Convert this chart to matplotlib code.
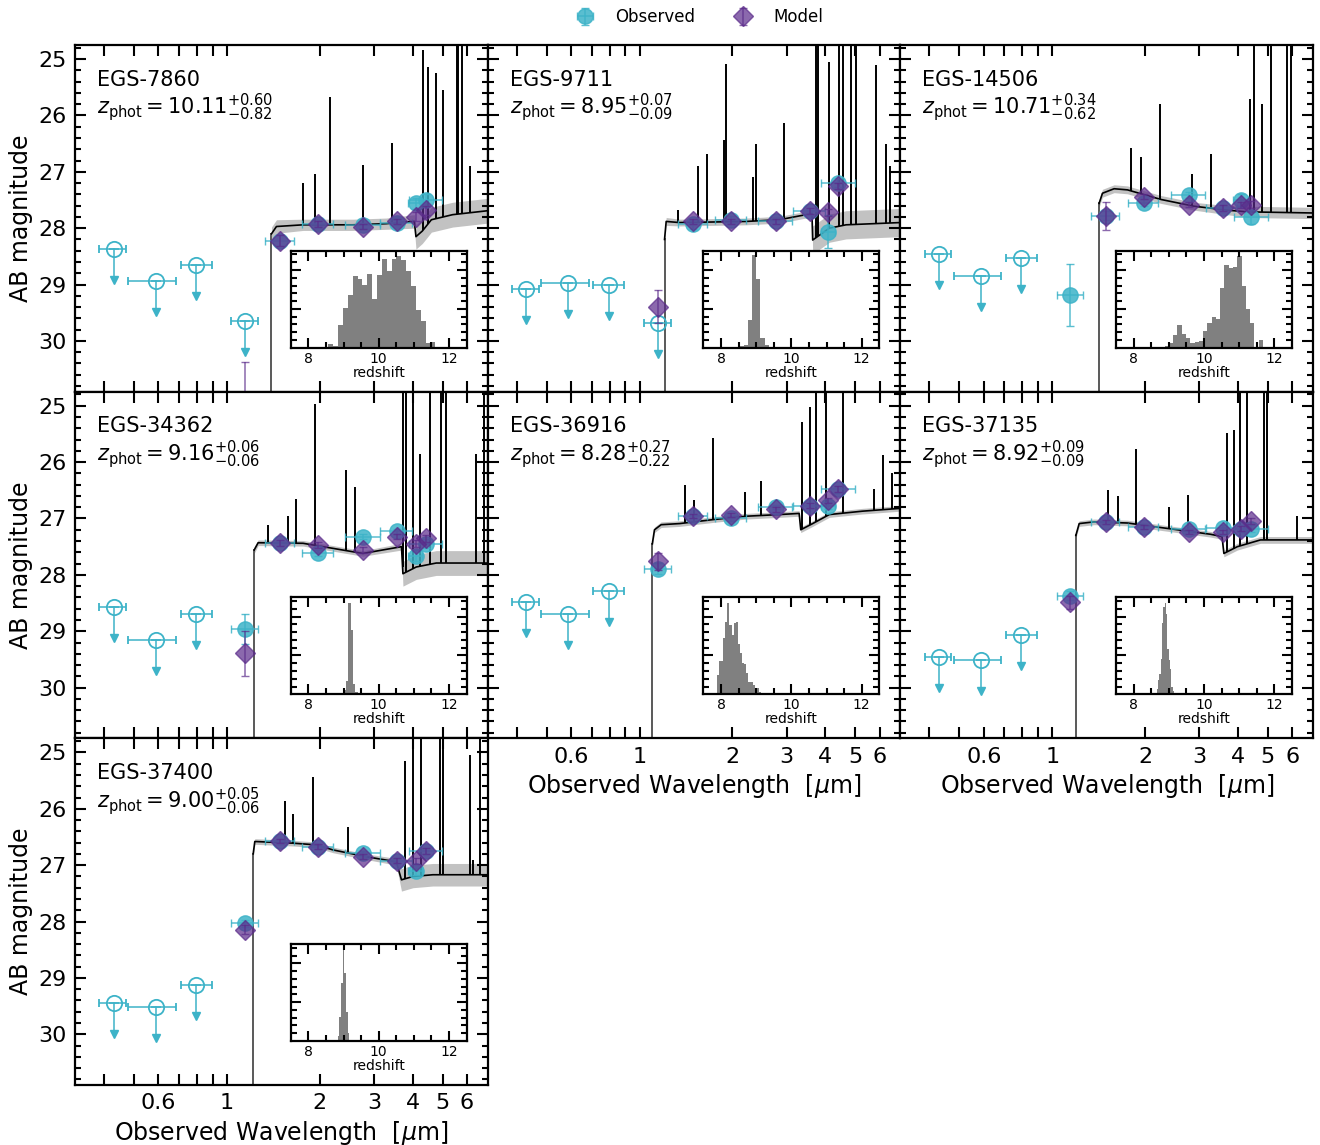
import numpy as np
import matplotlib
matplotlib.use("Agg")
import matplotlib.pyplot as plt
from matplotlib.ticker import FixedLocator, FixedFormatter, NullFormatter, MultipleLocator

# galaxies
names = ["EGS-7860", "EGS-9711", "EGS-14506", "EGS-34362", "EGS-36916", "EGS-37135", "EGS-37400"]
zphot = ["10.11", "8.95", "10.71", "9.16", "8.28", "8.92", "9.00"]
zplus = ["0.60", "0.07", "0.34", "0.06", "0.27", "0.09", "0.05"]
zminus = ["0.82", "0.09", "0.62", "0.06", "0.22", "0.09", "0.06"]

# filters: F435W F606W F814W F115W F150W F200W F277W F356W F410M F444W
band_wave = [0.430, 0.588, 0.795, 1.145, 1.49, 1.98, 2.77, 3.57, 4.09, 4.41]
band_lo = [0.386, 0.479, 0.708, 1.035, 1.334, 1.758, 2.42, 3.14, 3.86, 3.88]
band_hi = [0.471, 0.684, 0.892, 1.263, 1.651, 2.21, 3.13, 3.98, 4.30, 4.99]

# observed photometry (first n_ulim are upper limits)
n_ulim = [4, 4, 3, 3, 3, 3, 3]
obs_mag = [
    [28.37, 28.93, 28.65, 29.65, 28.22, 27.93, 27.95, 27.90, 27.56, 27.50],
    [29.08, 28.98, 29.00, 29.68, 27.93, 27.85, 27.88, 27.70, 28.06, 27.19],
    [28.45, 28.84, 28.53, 29.18, 27.78, 27.55, 27.41, 27.64, 27.50, 27.80],
    [28.57, 29.16, 28.70, 28.96, 27.44, 27.61, 27.32, 27.23, 27.66, 27.45],
    [28.48, 28.70, 28.29, 27.89, 26.96, 27.00, 26.80, 26.77, 26.77, 26.48],
    [29.45, 29.51, 29.07, 28.37, 27.06, 27.15, 27.18, 27.16, 27.18, 27.18],
    [29.45, 29.51, 29.12, 28.03, 26.57, 26.67, 26.79, 26.92, 27.11, 26.75],
]
obs_err = [
    [0, 0, 0, 0, 0.10, 0.06, 0.05, 0.05, 0.10, 0.10],
    [0, 0, 0, 0, 0.08, 0.06, 0.05, 0.06, 0.30, 0.08],
    [0, 0, 0, 0.55, 0.08, 0.06, 0.06, 0.06, 0.10, 0.12],
    [0, 0, 0, 0.27, 0.05, 0.05, 0.05, 0.05, 0.10, 0.08],
    [0, 0, 0, 0.10, 0.04, 0.04, 0.04, 0.04, 0.06, 0.06],
    [0, 0, 0, 0.08, 0.04, 0.04, 0.04, 0.04, 0.06, 0.06],
    [0, 0, 0, 0.06, 0.04, 0.04, 0.04, 0.04, 0.06, 0.06],
]
nan = np.nan
model_mag = [
    [nan, nan, nan, 31.30, 28.22, 27.93, 27.97, 27.88, 27.80, 27.68],
    [nan, nan, nan, 29.39, 27.88, 27.88, 27.88, 27.70, 27.72, 27.25],
    [nan, nan, nan, nan, 27.78, 27.44, 27.58, 27.64, 27.59, 27.58],
    [nan, nan, nan, 29.39, 27.44, 27.47, 27.56, 27.32, 27.45, 27.35],
    [nan, nan, nan, 27.76, 26.96, 26.94, 26.84, 26.77, 26.68, 26.48],
    [nan, nan, nan, 28.49, 27.06, 27.15, 27.24, 27.24, 27.18, 27.05],
    [nan, nan, nan, 28.15, 26.57, 26.67, 26.85, 26.92, 26.93, 26.75],
]
model_err = [
    [0, 0, 0, 0.92, 0.10, 0.05, 0.05, 0.05, 0.08, 0.08],
    [0, 0, 0, 0.30, 0.05, 0.05, 0.05, 0.05, 0.06, 0.06],
    [0, 0, 0, 0, 0.25, 0.05, 0.05, 0.05, 0.06, 0.06],
    [0, 0, 0, 0.40, 0.05, 0.05, 0.05, 0.05, 0.06, 0.06],
    [0, 0, 0, 0.15, 0.04, 0.04, 0.04, 0.04, 0.05, 0.05],
    [0, 0, 0, 0.12, 0.04, 0.04, 0.04, 0.04, 0.05, 0.05],
    [0, 0, 0, 0.08, 0.04, 0.04, 0.04, 0.04, 0.05, 0.05],
]

# best-fit model continuum (observed micron, AB mag, band half width)
break_wave = [1.395, 1.205, 1.419, 1.226, 1.10, 1.193, 1.217]
cont_wave = [
    [1.395, 1.448, 1.766, 2.56, 3.28, 4.05, 4.10, 4.30, 4.60, 5.39, 7.0],
    [1.205, 1.22, 1.347, 2.214, 2.84, 3.46, 3.62, 3.64, 4.12, 4.67, 7.0],
    [1.419, 1.455, 1.587, 1.753, 2.25, 2.88, 3.69, 4.29, 7.0],
    [1.226, 1.263, 1.766, 2.05, 2.76, 3.68, 3.72, 4.11, 4.77, 7.0],
    [1.10, 1.118, 1.175, 1.35, 1.73, 2.21, 2.84, 3.29, 3.33, 3.64, 4.12, 5.28, 7.0],
    [1.193, 1.223, 1.367, 1.753, 1.98, 2.545, 3.26, 3.55, 3.60, 3.98, 4.73, 7.0],
    [1.217, 1.232, 1.64, 1.95, 2.21, 2.83, 3.54, 3.68, 4.01, 4.65, 7.0],
]
cont_mag = [
    [28.10, 27.97, 27.94, 27.94, 27.92, 27.88, 28.15, 28.05, 27.85, 27.76, 27.69],
    [28.20, 27.88, 27.90, 27.88, 27.85, 27.76, 27.74, 28.21, 28.00, 27.94, 27.90],
    [27.56, 27.38, 27.30, 27.32, 27.49, 27.61, 27.68, 27.71, 27.73],
    [27.56, 27.43, 27.44, 27.50, 27.62, 27.50, 27.98, 27.86, 27.79, 27.79],
    [27.45, 27.20, 27.11, 27.09, 27.02, 26.96, 26.93, 26.91, 27.20, 27.09, 26.93, 26.87, 26.82],
    [27.30, 27.09, 27.06, 27.08, 27.12, 27.20, 27.28, 27.32, 27.62, 27.50, 27.38, 27.38],
    [26.80, 26.58, 26.61, 26.64, 26.73, 26.85, 26.94, 27.26, 27.20, 27.17, 27.17],
]
cont_band = [
    [0.12, 0.12, 0.10, 0.10, 0.10, 0.12, 0.22, 0.22, 0.22, 0.22, 0.22],
    [0.10, 0.07, 0.06, 0.06, 0.06, 0.06, 0.08, 0.25, 0.25, 0.25, 0.25],
    [0.07, 0.07, 0.07, 0.07, 0.07, 0.07, 0.08, 0.10, 0.10],
    [0.06, 0.05, 0.05, 0.05, 0.05, 0.06, 0.22, 0.22, 0.22, 0.22],
    [0.06, 0.05, 0.05, 0.05, 0.05, 0.05, 0.05, 0.05, 0.05, 0.05, 0.05, 0.05, 0.05],
    [0.05, 0.05, 0.05, 0.05, 0.05, 0.05, 0.05, 0.05, 0.06, 0.06, 0.06, 0.06],
    [0.08, 0.05, 0.05, 0.05, 0.05, 0.05, 0.06, 0.20, 0.20, 0.20, 0.20],
]

# emission lines (observed micron, peak AB mag; 24 = off the top)
line_wave = [
    [1.766, 1.926, 2.153, 2.763, 3.44, 4.32, 4.48, 4.77, 5.01, 5.55, 5.62, 5.77, 6.12],
    [1.33, 1.544, 1.656, 1.883, 1.907, 2.33, 2.387, 2.946, 3.73, 3.80, 4.10, 4.44, 4.56, 4.86, 5.02, 5.83, 6.29, 6.5],
    [1.806, 1.935, 2.23, 2.83, 3.26, 4.37, 4.51, 4.79, 5.10, 5.78, 5.94],
    [1.361, 1.58, 1.68, 1.926, 2.44, 2.6, 3.71, 3.80, 4.0, 4.21, 4.54, 4.95, 5.14, 6.43, 6.8],
    [1.406, 1.506, 1.727, 2.2, 2.47, 3.36, 3.57, 3.73, 4.02, 4.55, 5.76, 6.13, 6.6],
    [1.52, 1.63, 1.875, 2.39, 2.76, 3.68, 3.87, 4.06, 4.28, 4.87, 4.95, 6.22],
    [1.54, 1.64, 1.90, 2.47, 3.77, 4.0, 4.27, 4.89, 5.0, 6.12, 6.28, 6.6],
]
line_peak = [
    [27.20, 27.03, 25.67, 26.88, 26.49, 24.84, 25.14, 25.25, 25.55, 24.0, 24.0, 24.0, 26.90],
    [27.68, 26.90, 26.68, 26.43, 25.08, 27.10, 26.50, 26.14, 24.0, 24.0, 25.05, 24.0, 24.0, 24.0, 24.0, 25.10, 26.50, 26.90],
    [26.58, 26.73, 25.79, 27.04, 26.69, 25.70, 24.0, 25.79, 24.0, 24.0, 24.0],
    [27.12, 26.95, 26.65, 24.96, 26.14, 26.44, 24.0, 24.0, 24.0, 25.85, 24.0, 24.0, 24.0, 25.85, 24.0],
    [26.41, 26.68, 25.58, 26.53, 26.33, 25.29, 25.03, 24.0, 24.0, 24.0, 26.47, 25.88, 26.20],
    [26.50, 26.60, 25.76, 26.79, 26.58, 25.49, 25.43, 24.0, 24.0, 24.0, 24.0, 26.96],
    [25.87, 26.10, 25.43, 26.32, 25.16, 24.0, 24.0, 24.0, 24.0, 25.04, 26.91, 24.0],
]

# redshift posterior histograms (relative heights)
hist_start = [8.433, 8.52, 8.757, 8.99, 7.88, 8.614, 8.833]
hist_width = [0.138, 0.12, 0.1216, 0.07, 0.06, 0.038, 0.048]
hist_counts = [
    [0.01, 0.04, 0.02, 0.23, 0.41, 0.54, 0.74, 0.71, 0.65, 0.76, 0.50, 0.75, 0.91,
     0.79, 0.91, 0.94, 0.90, 0.79, 0.64, 0.39, 0.27, 0.05, 0.06, 0.0, 0.01],
    [0.02, 0.03, 0.28, 0.95, 0.71, 0.10, 0.03],
    [0.01, 0.02, 0.05, 0.13, 0.23, 0.14, 0.10, 0.05, 0.06, 0.07, 0.17, 0.25, 0.32,
     0.30, 0.61, 0.85, 0.82, 0.83, 0.94, 0.64, 0.40, 0.25, 0.0, 0.08, 0.01],
    [0.04, 0.14, 0.94, 0.66, 0.11, 0.02],
    [0.20, 0.34, 0.34, 0.58, 0.75, 0.94, 0.71, 0.61, 0.73, 0.74, 0.52, 0.43, 0.32,
     0.31, 0.22, 0.125, 0.125, 0.10, 0.07, 0.06, 0.02, 0.01],
    [0.01, 0.05, 0.15, 0.21, 0.36, 0.73, 0.90, 0.94, 0.83, 0.47, 0.35, 0.26, 0.08, 0.03],
    [0.05, 0.25, 0.60, 0.94, 0.70, 0.30, 0.08],
]

obs_color = "#3db3c8"
model_color = "#5a2a8a"

fig = plt.figure(figsize=(13.2, 11.45), dpi=100)
gs = fig.add_gridspec(3, 3, left=0.0568, right=0.9947, top=0.9607, bottom=0.0524,
                      wspace=0, hspace=0)
slots = [(0, 0), (0, 1), (0, 2), (1, 0), (1, 1), (1, 2), (2, 0)]
leg_handles = None

for i, (r, c) in enumerate(slots):
    ax = fig.add_subplot(gs[r, c])
    ax.set_xscale("log")

    # model spectrum with uncertainty band
    cw = np.array(cont_wave[i])
    cm = np.array(cont_mag[i])
    cb = np.array(cont_band[i])
    ax.fill_between(cw, cm - cb, cm + cb, color="0.72", alpha=0.85, lw=0, zorder=1)
    ax.plot([break_wave[i], break_wave[i]], [32, cm[0]], color="0.35", lw=1.4, zorder=2)
    ax.plot(cw, cm, color="k", lw=1.2, zorder=2)
    lw_ = np.array(line_wave[i])
    base = np.interp(np.log10(lw_), np.log10(cw), cm)
    ax.vlines(lw_, line_peak[i], base, color="k", lw=1.4, zorder=2)

    # photometry
    om = np.array(obs_mag[i])
    oe = np.array(obs_err[i])
    bw = np.array(band_wave)
    xe = [bw - np.array(band_lo), np.array(band_hi) - bw]
    n = n_ulim[i]
    ax.errorbar(bw[:n], om[:n], xerr=[xe[0][:n], xe[1][:n]], fmt="o", mfc="none",
                mec=obs_color, ecolor=obs_color, mew=1.3, ms=11, capsize=3, elinewidth=1.1,
                zorder=3)
    for w, m in zip(bw[:n], om[:n]):
        ax.plot([w, w], [m, m + 0.55], color=obs_color, lw=1.1, zorder=3)
        ax.plot(w, m + 0.55, "v", color=obs_color, ms=6, zorder=3)
        ax.plot(w, m, "_", color=obs_color, ms=7, mew=1.1, zorder=3)
    eb_obs = ax.errorbar(bw[n:], om[n:], xerr=[xe[0][n:], xe[1][n:]], yerr=oe[n:], fmt="o",
                         color=obs_color, ms=11, alpha=0.85, capsize=3, elinewidth=1.1,
                         zorder=3)
    eb_mod = ax.errorbar(bw, model_mag[i], yerr=model_err[i], fmt="D", color=model_color,
                         ms=10, alpha=0.7, capsize=3, elinewidth=1.1, zorder=4)
    if leg_handles is None:
        leg_handles = [eb_obs, eb_mod]

    ax.text(0.053, 0.9, names[i], transform=ax.transAxes, fontsize=15, va="center")
    ax.text(0.053, 0.82,
            r"$z_{\rm phot} = %s^{+%s}_{-%s}$" % (zphot[i], zplus[i], zminus[i]),
            transform=ax.transAxes, fontsize=15, va="center")

    ax.set_xlim(0.322, 7.0)
    ax.set_ylim(30.9, 24.75)
    ax.xaxis.set_major_locator(FixedLocator([0.6, 1, 2, 3, 4, 5, 6]))
    ax.xaxis.set_major_formatter(FixedFormatter(["0.6", "1", "2", "3", "4", "5", "6"]))
    ax.xaxis.set_minor_locator(FixedLocator([0.4, 0.5, 0.7, 0.8, 0.9]))
    ax.xaxis.set_minor_formatter(NullFormatter())
    ax.yaxis.set_major_locator(FixedLocator([25, 26, 27, 28, 29, 30]))
    ax.yaxis.set_minor_locator(MultipleLocator(0.2))
    ax.tick_params(which="both", direction="in", top=True, right=True, width=1.5,
                   labelsize=16, pad=6)
    ax.tick_params(axis="x", which="both", length=8)
    ax.tick_params(axis="y", which="major", length=8)
    ax.tick_params(axis="y", which="minor", length=4)
    for s in ax.spines.values():
        s.set_linewidth(1.6)

    if c == 0:
        ax.set_ylabel("AB magnitude", fontsize=17)
    else:
        ax.tick_params(axis="y", labelleft=False)
    if i in (4, 5, 6):
        ax.set_xlabel(r"Observed Wavelength  [$\mu$m]", fontsize=17)
    else:
        ax.tick_params(axis="x", labelbottom=False)

    # redshift posterior inset
    ins = ax.inset_axes([0.523, 0.127, 0.426, 0.28])
    nb = len(hist_counts[i])
    edges = hist_start[i] + hist_width[i] * np.arange(nb + 1)
    ins.stairs(hist_counts[i], edges, fill=True, color="#808080")
    ins.set_xlim(7.5, 12.5)
    ins.set_ylim(0, 1)
    ins.xaxis.set_major_locator(FixedLocator([8, 10, 12]))
    ins.xaxis.set_minor_locator(FixedLocator([8.5, 9, 9.5, 10.5, 11, 11.5]))
    ins.yaxis.set_major_locator(FixedLocator([0.4, 0.8]))
    ins.yaxis.set_minor_locator(FixedLocator([0.08, 0.16, 0.24, 0.32, 0.48, 0.56,
                                              0.64, 0.72, 0.88, 0.96]))
    ins.tick_params(which="both", direction="in", top=True, right=True, width=1.5,
                    labelsize=10, pad=3, labelleft=False)
    ins.tick_params(which="major", length=7)
    ins.tick_params(which="minor", length=4)
    for s in ins.spines.values():
        s.set_linewidth(1.6)
    ins.set_xlabel("redshift", fontsize=10, labelpad=0)

# legend
fig.legend(leg_handles, ["Observed", "Model"], loc="center",
           bbox_to_anchor=(0.527, 0.985), ncol=2, frameon=False, fontsize=12,
           columnspacing=1.9, handletextpad=0.8)

fig.savefig("out.png", dpi=100)
